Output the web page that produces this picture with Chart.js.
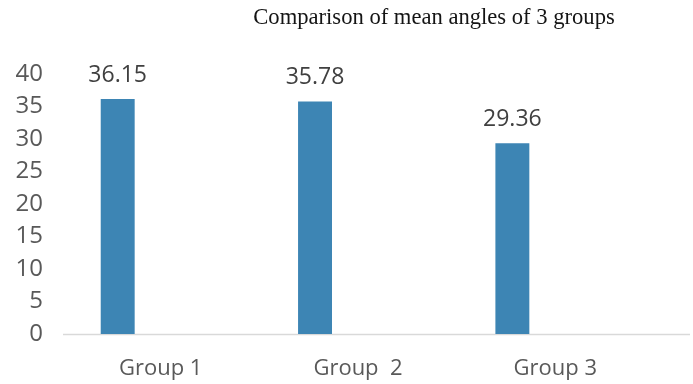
<!DOCTYPE html>
<html>
<head>
<meta charset="utf-8">
<script src="https://cdn.jsdelivr.net/npm/chart.js@4/dist/chart.umd.min.js"></script>
<style>
  html, body { margin: 0; padding: 0; background: #ffffff; }
  #wrap { width: 693px; height: 384px; }
</style>
</head>
<body>
<div id="wrap"><canvas id="chart" width="693" height="384"></canvas></div>
<script>
// Chart content
const titleText = 'Comparison of mean angles of 3 groups';
const categories = ['Group 1', 'Group  2', 'Group 3'];
const meanAngles = [36.15, 35.78, 29.36];
const emptySeries = [null, null, null];   // second series slot, left blank
const yTickValues = [0, 5, 10, 15, 20, 25, 30, 35, 40];

const BAR_COLOR = '#3d85b4';
const AXIS_TEXT = '#595959';
const LABEL_TEXT = '#404040';

// Title drawn above the plot, centred over the right part of the figure
const titlePlugin = {
  id: 'titleText',
  afterDraw(chart) {
    const ctx = chart.ctx;
    ctx.save();
    ctx.font = '22.6px "Liberation Serif", "Times New Roman", serif';
    ctx.fillStyle = '#141414';
    ctx.textAlign = 'center';
    ctx.textBaseline = 'alphabetic';
    ctx.fillText(titleText, 434, 23.5);
    ctx.restore();
  }
};

// Light category baseline at y = 0, running past the last category
const baselinePlugin = {
  id: 'baseline',
  beforeDatasetsDraw(chart) {
    const ctx = chart.ctx;
    const y = Math.round(chart.scales.y.getPixelForValue(0)) + 0.5;
    ctx.save();
    ctx.strokeStyle = '#d9d9d9';
    ctx.lineWidth = 1.5;
    ctx.beginPath();
    ctx.moveTo(chart.chartArea.left + 1, y);
    ctx.lineTo(chart.width - 3, y);
    ctx.stroke();
    ctx.restore();
  }
};

// Value labels above each bar
const valueLabelPlugin = {
  id: 'valueLabels',
  afterDatasetsDraw(chart) {
    const ctx = chart.ctx;
    const meta = chart.getDatasetMeta(0);
    ctx.save();
    ctx.font = '23px "Open Sans", sans-serif';
    ctx.fillStyle = LABEL_TEXT;
    ctx.textAlign = 'center';
    ctx.textBaseline = 'alphabetic';
    meta.data.forEach((bar, i) => {
      const v = chart.data.datasets[0].data[i];
      if (v == null) return;
      ctx.fillText(v.toFixed(2), bar.x, bar.y - 17.5);
    });
    ctx.restore();
  }
};

const barShape = { categoryPercentage: 0.871, barPercentage: 0.395 };

new Chart(document.getElementById('chart'), {
  type: 'bar',
  data: {
    labels: categories,
    datasets: [
      { label: 'Mean angle', data: meanAngles, backgroundColor: BAR_COLOR, borderWidth: 0, ...barShape },
      { label: '', data: emptySeries, backgroundColor: BAR_COLOR, borderWidth: 0, ...barShape }
    ]
  },
  options: {
    responsive: false,
    devicePixelRatio: 1,
    animation: false,
    layout: { padding: { top: 74, right: 39, left: 0, bottom: 0 } },
    plugins: {
      legend: { display: false },
      title: { display: false },
      tooltip: { enabled: false }
    },
    scales: {
      x: {
        grid: { display: false, drawTicks: false },
        border: { display: false },
        ticks: {
          color: AXIS_TEXT,
          font: { family: '"Open Sans", sans-serif', size: 22 },
          padding: 22,
          maxRotation: 0,
          autoSkip: false
        },
        afterFit(scale) { scale.height = 50; }
      },
      y: {
        min: 0,
        max: 40,
        grid: { display: false, drawTicks: false },
        border: { display: false },
        ticks: {
          color: AXIS_TEXT,
          font: { family: '"Open Sans", sans-serif', size: 24 },
          padding: 19
        },
        afterBuildTicks(scale) { scale.ticks = yTickValues.map(v => ({ value: v })); },
        afterFit(scale) { scale.width = 62; }
      }
    }
  },
  plugins: [baselinePlugin, valueLabelPlugin, titlePlugin]
});
</script>
</body>
</html>
